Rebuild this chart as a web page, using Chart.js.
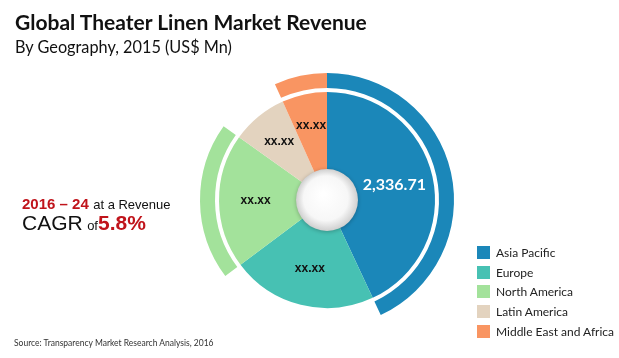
<!DOCTYPE html>
<html>
<head>
<meta charset="utf-8">
<script src="https://cdn.jsdelivr.net/npm/chart.js@4.4.0/dist/chart.umd.min.js"></script>
<style>
    body { margin: 0; background: #fff; }
    #wrap { position: relative; width: 619px; height: 358px; overflow: hidden; font-family: Lato, sans-serif; }
    #chart { position: absolute; left: 0; top: 0; }
    .title { position: absolute; left: 15px; top: 9px; font-size: 21px; font-weight: bold; color: #111; white-space: nowrap; }
    .subtitle { position: absolute; left: 15px; top: 37px; font-size: 16.3px; color: #111; white-space: nowrap; }
    .cagr { position: absolute; left: 22px; top: 195px; font-family: "Liberation Sans", Arial, sans-serif; color: #111; white-space: nowrap; }
    .cagr .red { color: #c0141b; font-weight: bold; }
    .legend { position: absolute; left: 477px; top: 243px; font-size: 12px; color: #222; }
    .legend div { height: 19.6px; display: flex; align-items: center; white-space: nowrap; }
    .legend span.box { width: 13px; height: 13px; margin-right: 6px; display: inline-block; }
    .source { position: absolute; left: 14px; top: 338px; font-size: 8.5px; color: #333; white-space: nowrap; }
</style>
</head>
<body>
<div id="wrap">
    <canvas id="chart" width="619" height="358"></canvas>
    <div class="title">Global Theater Linen Market Revenue</div>
    <div class="subtitle">By Geography, 2015 (US$ Mn)</div>
    <div class="cagr">
        <div><span class="red" style="font-size:15px">2016 – 24</span> <span style="font-size:13px">at a Revenue</span></div>
        <div style="margin-top:-2px"><span style="font-size:21px">CAGR</span> <span style="font-size:13px">of</span><span class="red" style="font-size:21px">5.8%</span></div>
    </div>
    <div class="legend" id="legend"></div>
    <div class="source">Source: Transparency Market Research Analysis, 2016</div>
</div>
<script>
// Chart data
const regions = ['Asia Pacific', 'Europe', 'North America', 'Latin America', 'Middle East and Africa'];
const revenue = [2336.71, 1180, 1090, 457, 365];
const valueLabels = ['2,336.71', 'xx.xx', 'xx.xx', 'xx.xx', 'xx.xx'];
const colors = ['#1b87b9', '#47c1b3', '#a3e29b', '#e3d3bf', '#f99562'];
const highlighted = [true, false, true, false, true];

// Build legend
document.getElementById('legend').innerHTML = regions.map((name, i) => `
    <div><span class="box" style="background:${colors[i]}"></span>${name}</div>
`).join('');

// Center hole and slice labels
const centerPlugin = {
    id: 'centerPlugin',
    afterDatasetsDraw(chart) {
        const ctx = chart.ctx;
        const meta = chart.getDatasetMeta(2);
        const first = meta.data[0];
        const cx = first.x, cy = first.y;
        const r = first.innerRadius + 1;

        ctx.save();
        ctx.shadowColor = 'rgba(0,0,0,0.25)';
        ctx.shadowBlur = 4;
        ctx.shadowOffsetY = 1;
        const grad = ctx.createRadialGradient(cx - 4, cy - 6, 2, cx, cy, r);
        grad.addColorStop(0, '#ffffff');
        grad.addColorStop(0.7, '#f7f7f7');
        grad.addColorStop(1, '#cfcfcf');
        ctx.fillStyle = grad;
        ctx.beginPath();
        ctx.arc(cx, cy, r, 0, Math.PI * 2);
        ctx.fill();
        ctx.restore();

        ctx.save();
        ctx.textAlign = 'center';
        ctx.textBaseline = 'middle';
        meta.data.forEach((arc, i) => {
            // label at the slice centroid, but never closer than the mid radius
            const R = arc.outerRadius, ri = arc.innerRadius;
            const half = (arc.endAngle - arc.startAngle) / 2;
            const centroid = (2 / 3) * (R ** 3 - ri ** 3) / (R ** 2 - ri ** 2) * Math.sin(half) / half;
            const dist = Math.max((R + ri) / 2, centroid);
            const mid = (arc.startAngle + arc.endAngle) / 2;
            const x = arc.x + Math.cos(mid) * dist;
            const y = arc.y + Math.sin(mid) * dist;
            if (i === 0) {
                ctx.font = 'bold 16px Lato';
                ctx.fillStyle = '#ffffff';
            } else {
                ctx.font = 'bold 12px "Liberation Sans"';
                ctx.fillStyle = '#111111';
            }
            ctx.fillText(valueLabels[i], x, y);
        });
        ctx.restore();
    }
};

new Chart(document.getElementById('chart'), {
    type: 'doughnut',
    data: {
        labels: regions,
        datasets: [
            {
                data: revenue,
                backgroundColor: colors.map((c, i) => highlighted[i] ? c : 'rgba(0,0,0,0)'),
                borderWidth: 0,
                weight: 15
            },
            {
                data: revenue,
                backgroundColor: 'rgba(0,0,0,0)',
                borderWidth: 0,
                weight: 4
            },
            {
                data: revenue,
                backgroundColor: colors,
                borderWidth: 0,
                weight: 78
            }
        ]
    },
    options: {
        responsive: false,
        animation: false,
        cutout: '23.6%',
        layout: {
            padding: { left: 200, right: 165, top: 73, bottom: 31 }
        },
        plugins: {
            legend: { display: false },
            tooltip: { enabled: false }
        }
    },
    plugins: [centerPlugin]
});
</script>
</body>
</html>
